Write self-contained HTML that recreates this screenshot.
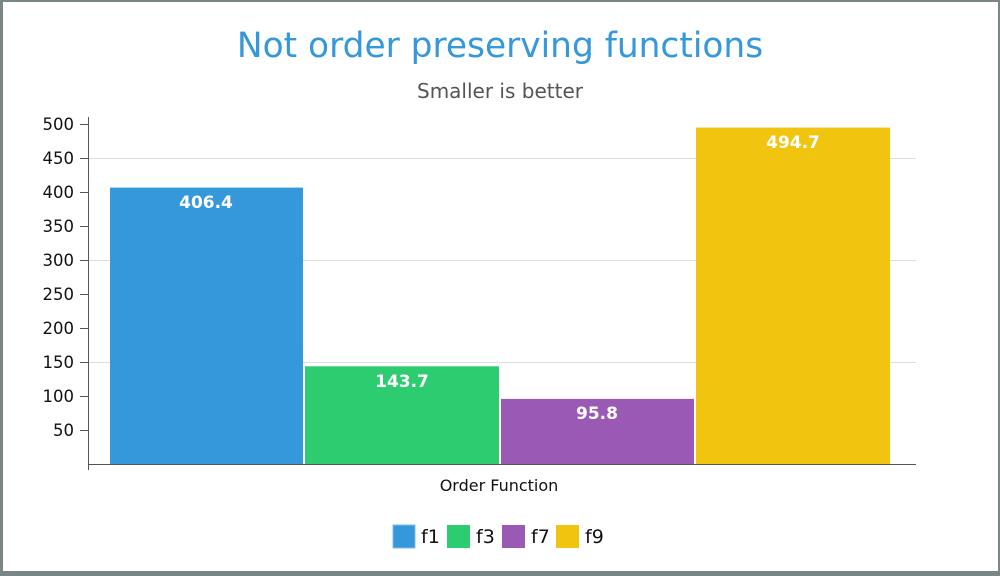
<!DOCTYPE html>
<html><head><style>
body{margin:0;background:#fff;}
svg{display:block;font-family:"DejaVu Sans","Liberation Sans",sans-serif;}
</style></head><body>
<svg width="1000" height="576" viewBox="0 0 1000 576">
<rect x="0" y="0" width="1000" height="576" fill="#7a8585"/>
<rect x="3" y="2" width="995" height="569" fill="#fff"/>
<text x="500" y="57" text-anchor="middle" font-size="34.4" fill="#3498db">Not order preserving functions</text>
<text x="500" y="98" text-anchor="middle" font-size="20" fill="#555">Smaller is better</text>
<g stroke="#ddd" stroke-width="1">
<line x1="88" y1="158.5" x2="916" y2="158.5"/>
<line x1="88" y1="260.5" x2="916" y2="260.5"/>
<line x1="88" y1="362.5" x2="916" y2="362.5"/>
</g>
<rect x="110" y="187.6" width="193" height="276.4" fill="#3498db"/>
<rect x="305" y="366.3" width="194" height="97.7" fill="#2ecc71"/>
<rect x="501" y="398.9" width="193" height="65.1" fill="#9b59b6"/>
<rect x="696" y="127.6" width="194" height="336.4" fill="#f1c40f"/>
<g fill="#fff" font-size="17" font-weight="bold" text-anchor="middle">
<text x="206" y="208">406.4</text>
<text x="402" y="387">143.7</text>
<text x="597" y="419">95.8</text>
<text x="793" y="148">494.7</text>
</g>
<g stroke="#555" stroke-width="1">
<line x1="88.5" y1="117" x2="88.5" y2="470"/>
<line x1="88" y1="464.5" x2="916" y2="464.5"/>
<line x1="80" y1="124.5" x2="88" y2="124.5"/>
<line x1="80" y1="158.5" x2="88" y2="158.5"/>
<line x1="80" y1="192.5" x2="88" y2="192.5"/>
<line x1="80" y1="226.5" x2="88" y2="226.5"/>
<line x1="80" y1="260.5" x2="88" y2="260.5"/>
<line x1="80" y1="294.5" x2="88" y2="294.5"/>
<line x1="80" y1="328.5" x2="88" y2="328.5"/>
<line x1="80" y1="362.5" x2="88" y2="362.5"/>
<line x1="80" y1="396.5" x2="88" y2="396.5"/>
<line x1="80" y1="430.5" x2="88" y2="430.5"/>
</g>
<g font-size="16.5" fill="#111" text-anchor="end">
<text x="74" y="130">500</text><text x="74" y="164">450</text>
<text x="74" y="198">400</text><text x="74" y="232">350</text>
<text x="74" y="266">300</text><text x="74" y="300">250</text>
<text x="74" y="334">200</text><text x="74" y="368">150</text>
<text x="74" y="402">100</text><text x="74" y="436">50</text>
</g>
<text x="499" y="491" text-anchor="middle" font-size="16" fill="#111">Order Function</text>
<rect x="393" y="525" width="22" height="23" fill="#3498db" stroke="#7fbdea"/>
<rect x="447" y="525" width="23" height="23" fill="#2ecc71"/>
<rect x="502" y="525" width="23" height="23" fill="#9b59b6"/>
<rect x="556" y="525" width="23" height="23" fill="#f1c40f"/>
<g font-size="19" fill="#111">
<text x="421" y="543">f1</text><text x="476" y="543">f3</text>
<text x="531" y="543">f7</text><text x="585" y="543">f9</text>
</g>
</svg>
</body></html>
